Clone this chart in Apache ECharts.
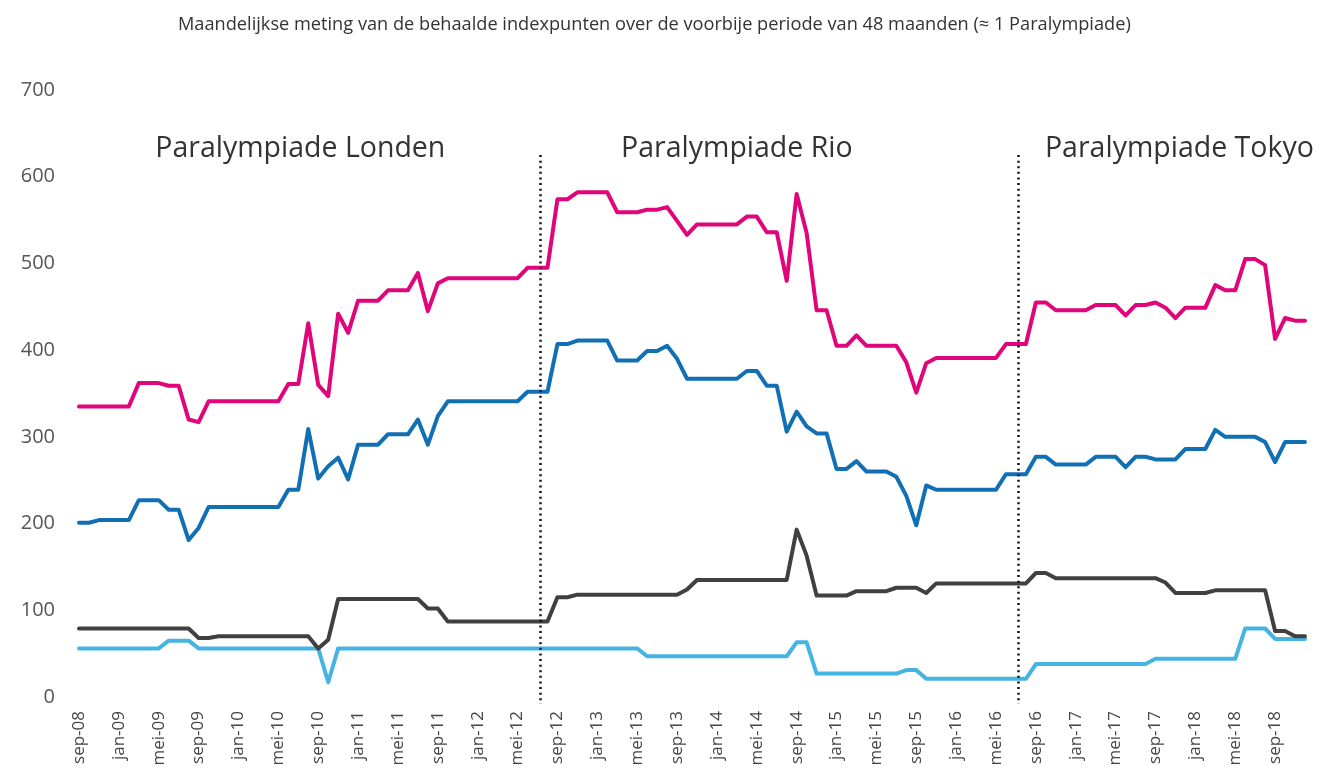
<!DOCTYPE html>
<html>
<head>
<meta charset="utf-8">
<script src="https://cdn.jsdelivr.net/npm/echarts@6/dist/echarts.min.js"></script>
<style>
  html, body { margin: 0; padding: 0; background: #ffffff; }
  #chart { width: 1321px; height: 771px; }
</style>
</head>
<body>
<div id="chart"></div>
<script>
// Monthly measurements, sep-08 through dec-18 (124 months)
const monthNames = ['jan', 'feb', 'mrt', 'apr', 'mei', 'jun', 'jul', 'aug', 'sep', 'okt', 'nov', 'dec'];
const firstMonth = 8;   // sep
const firstYear = 2008;
const monthCount = 124;

const categories = [];
for (let k = 0; k < monthCount; k++) {
  const m = (firstMonth + k) % 12;
  const y = firstYear + Math.floor((firstMonth + k) / 12);
  categories.push(monthNames[m] + '-' + String(y % 100).padStart(2, '0'));
}

const seriesMagenta = [
  335, 335, 335, 335, 335, 335, 362, 362, 362, 359, 359, 320, 317, 341, 341, 341,
  341, 341, 341, 341, 341, 361, 361, 431, 360, 347, 442, 420, 457, 457, 457, 469,
  469, 469, 489, 445, 477, 483, 483, 483, 483, 483, 483, 483, 483, 495, 495, 495,
  574, 574, 582, 582, 582, 582, 559, 559, 559, 562, 562, 565, 549, 533, 545, 545,
  545, 545, 545, 554, 554, 536, 536, 480, 580, 535, 446, 446, 405, 405, 417, 405,
  405, 405, 405, 386, 351, 385, 391, 391, 391, 391, 391, 391, 391, 407, 407, 407,
  455, 455, 446, 446, 446, 446, 452, 452, 452, 440, 452, 452, 455, 449, 437, 449,
  449, 449, 475, 469, 469, 505, 505, 498, 413, 437, 434, 434
];

const seriesBlue = [
  201, 201, 204, 204, 204, 204, 227, 227, 227, 216, 216, 181, 195, 219, 219, 219,
  219, 219, 219, 219, 219, 239, 239, 309, 252, 266, 276, 251, 291, 291, 291, 303,
  303, 303, 320, 291, 324, 341, 341, 341, 341, 341, 341, 341, 341, 352, 352, 352,
  407, 407, 411, 411, 411, 411, 388, 388, 388, 399, 399, 405, 390, 367, 367, 367,
  367, 367, 367, 376, 376, 359, 359, 306, 329, 312, 304, 304, 263, 263, 272, 260,
  260, 260, 254, 232, 198, 244, 239, 239, 239, 239, 239, 239, 239, 257, 257, 257,
  277, 277, 268, 268, 268, 268, 277, 277, 277, 265, 277, 277, 274, 274, 274, 286,
  286, 286, 308, 300, 300, 300, 300, 294, 271, 294, 294, 294
];

const seriesGray = [
   79,  79,  79,  79,  79,  79,  79,  79,  79,  79,  79,  79,  68,  68,  70,  70,
   70,  70,  70,  70,  70,  70,  70,  70,  56,  66, 113, 113, 113, 113, 113, 113,
  113, 113, 113, 102, 102,  87,  87,  87,  87,  87,  87,  87,  87,  87,  87,  87,
  115, 115, 118, 118, 118, 118, 118, 118, 118, 118, 118, 118, 118, 124, 135, 135,
  135, 135, 135, 135, 135, 135, 135, 135, 193, 163, 117, 117, 117, 117, 122, 122,
  122, 122, 126, 126, 126, 120, 131, 131, 131, 131, 131, 131, 131, 131, 131, 131,
  143, 143, 137, 137, 137, 137, 137, 137, 137, 137, 137, 137, 137, 132, 120, 120,
  120, 120, 123, 123, 123, 123, 123, 123,  76,  76,  70,  70
];

const seriesLightBlue = [
   56,  56,  56,  56,  56,  56,  56,  56,  56,  65,  65,  65,  56,  56,  56,  56,
   56,  56,  56,  56,  56,  56,  56,  56,  56,  17,  56,  56,  56,  56,  56,  56,
   56,  56,  56,  56,  56,  56,  56,  56,  56,  56,  56,  56,  56,  56,  56,  56,
   56,  56,  56,  56,  56,  56,  56,  56,  56,  47,  47,  47,  47,  47,  47,  47,
   47,  47,  47,  47,  47,  47,  47,  47,  63,  63,  27,  27,  27,  27,  27,  27,
   27,  27,  27,  31,  31,  21,  21,  21,  21,  21,  21,  21,  21,  21,  21,  21,
   38,  38,  38,  38,  38,  38,  38,  38,  38,  38,  38,  38,  44,  44,  44,  44,
   44,  44,  44,  44,  44,  79,  79,  79,  67,  67,  67,  67
];

// Games periods: separator positions (fractional month index) and label centres
const separatorPositions = [46.3, 94.2];
const separatorRange = [-8, 625];
const periodLabels = ['Paralympiade Londen', 'Paralympiade Rio', 'Paralympiade Tokyo'];
const periodLabelCentres = [22.2, 66.0, 110.4];
const periodLabelValue = 632;

const titleText = 'Maandelijkse meting van de behaalde indexpunten over de voorbije periode van 48 maanden (\u2248 1 Paralympiade)';

const chart = echarts.init(document.getElementById('chart'), null, { renderer: 'canvas' });

function lineSeries(name, data, color) {
  return {
    name: name,
    type: 'line',
    data: data,
    showSymbol: false,
    symbol: 'none',
    lineStyle: { color: color, width: 4, join: 'round', cap: 'round' },
    itemStyle: { color: color },
    emphasis: { disabled: true },
    z: 3
  };
}

chart.setOption({
  animation: false,
  backgroundColor: '#ffffff',
  title: {
    text: titleText,
    left: 173,
    top: 11,
    textStyle: {
      fontFamily: 'Open Sans',
      fontSize: 18.2,
      fontWeight: 'normal',
      color: '#333333'
    }
  },
  grid: { left: 79, right: 16, top: 90, bottom: 74, containLabel: false },
  xAxis: {
    type: 'category',
    data: categories,
    boundaryGap: false,
    axisLine: { show: false },
    axisTick: { show: false },
    splitLine: { show: false },
    axisLabel: {
      interval: 3,
      rotate: 90,
      margin: 14,
      fontFamily: 'Open Sans',
      fontSize: 17,
      color: '#444444'
    }
  },
  yAxis: {
    type: 'value',
    min: 0,
    max: 700,
    interval: 100,
    axisLine: { show: false },
    axisTick: { show: false },
    splitLine: { show: false },
    axisLabel: {
      margin: 24,
      fontFamily: 'Open Sans',
      fontSize: 20,
      color: '#555555'
    }
  },
  series: [
    lineSeries('Reeks D', seriesLightBlue, '#45b4e3'),
    lineSeries('Reeks C', seriesGray, '#404040'),
    lineSeries('Reeks B', seriesBlue, '#1170b4'),
    lineSeries('Reeks A', seriesMagenta, '#e0057b')
  ]
});

// Separators and period captions, positioned through the axes
function xAt(pos) {
  const i = Math.floor(pos);
  const f = pos - i;
  const a = chart.convertToPixel({ xAxisIndex: 0 }, i);
  const b = chart.convertToPixel({ xAxisIndex: 0 }, i + 1);
  return a + (b - a) * f;
}
function yAt(v) {
  return chart.convertToPixel({ yAxisIndex: 0 }, v);
}

const graphics = [];
separatorPositions.forEach(function (p) {
  const x = Math.round(xAt(p)) + 0.5;
  graphics.push({
    type: 'line',
    shape: { x1: x, y1: yAt(separatorRange[1]), x2: x, y2: yAt(separatorRange[0]) },
    style: { stroke: '#111111', lineWidth: 2.5, lineDash: [2, 3.6], lineCap: 'butt' },
    z: 10
  });
});
periodLabels.forEach(function (t, k) {
  graphics.push({
    type: 'text',
    x: xAt(periodLabelCentres[k]),
    y: yAt(periodLabelValue),
    style: {
      text: t,
      fontFamily: 'Open Sans',
      fontSize: 28.5,
      fill: '#333333',
      align: 'center',
      verticalAlign: 'middle'
    },
    z: 10
  });
});
chart.setOption({ graphic: graphics });
</script>
</body>
</html>
